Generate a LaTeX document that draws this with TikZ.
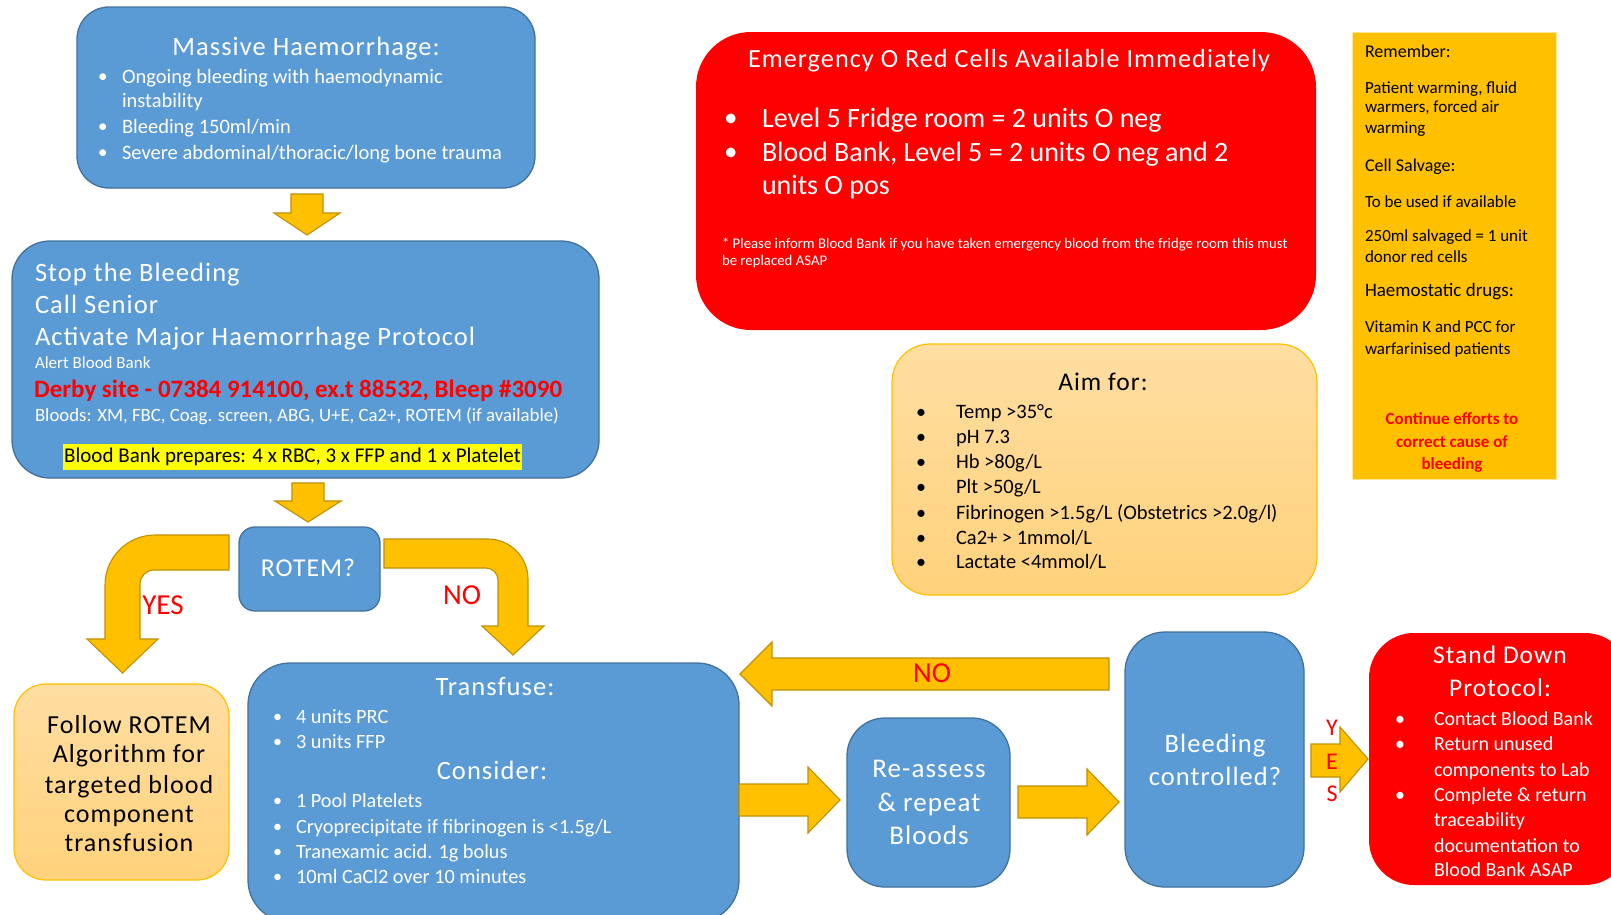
\documentclass[tikz,border=0pt]{standalone}
\usepackage{fontspec}
\setmainfont{Carlito}
\newfontfamily\spacedfont[LetterSpace=4]{Carlito}
\newcommand\sfz[1]{\spacedfont\fontsize{#1}{#1}\selectfont}
\newcommand\nfz[1]{\fontsize{#1}{#1}\selectfont}
\definecolor{boxblue}{HTML}{5B9BD5}
\definecolor{boxedge}{HTML}{41719C}
\definecolor{arrowfill}{HTML}{FFC000}
\definecolor{arrowedge}{HTML}{BF9000}
\definecolor{palehi}{HTML}{FFDEA2}
\definecolor{palelo}{HTML}{FFD27C}
\definecolor{paleedge}{HTML}{FFC000}
\definecolor{redbox}{HTML}{FF0000}
\definecolor{hlyellow}{HTML}{FFFF00}
\definecolor{remedge}{HTML}{FFE699}
\begin{document}
\begin{tikzpicture}[x=1pt,y=-1pt,
  bluebox/.style={draw=boxedge, line width=1.3pt, fill=boxblue, rounded corners=#1, inner sep=0pt},
  redpanel/.style={fill=redbox, rounded corners=#1, inner sep=0pt},
  palebox/.style={draw=paleedge, line width=1.2pt, top color=palehi, bottom color=palelo, rounded corners=#1, inner sep=0pt},
  rembox/.style={draw=remedge, line width=0.8pt, fill=arrowfill, inner sep=0pt},
  blockarrow/.style={draw=arrowedge, line width=1.1pt, fill=arrowfill, line join=miter},
  lw/.style={inner sep=0pt, outer sep=0pt, anchor=mid west},
  lc/.style={inner sep=0pt, outer sep=0pt, anchor=mid},
  nf/.style={font=\nfz{#1}, yshift=-0.24*#1pt},
  sf/.style={font=\sfz{#1}, yshift=-0.24*#1pt},
  bf/.style={font=\nfz{#1}\bfseries, yshift=-0.24*#1pt},
]
\clip (0,0) rectangle (1611,914);

% ---------- boxes ----------
\node[bluebox=32, minimum width=458, minimum height=181] (mass) at (306,97.5) {};
\node[bluebox=38, minimum width=587, minimum height=237] (stop) at (305.5,359.5) {};
\node[bluebox=16, minimum width=141, minimum height=84] (rotem) at (309.5,569) {};
\node[palebox=32, minimum width=215, minimum height=196] (follow) at (121.5,782) {};
\node[bluebox=42, minimum width=491, minimum height=259] (trans) at (493.5,792.5) {};
\node[bluebox=38, minimum width=163, minimum height=169] (reass) at (928.5,802.5) {};
\node[bluebox=40, minimum width=179, minimum height=255] (bleed) at (1214.5,759.5) {};
\node[redpanel=45, minimum width=261, minimum height=252] (stand) at (1499.5,759) {};
\node[redpanel=55, minimum width=620, minimum height=298] (emerg) at (1006,181) {};
\node[palebox=38, minimum width=425, minimum height=251] (aim) at (1104.5,469.5) {};
\node[rembox, minimum width=204, minimum height=447] (rem) at (1454,255.5) {};

% ---------- block arrows ----------
\draw[blockarrow] (291,194) -- (323,194) -- (323,213) -- (340,213) -- (307,235) -- (274,213) -- (291,213) -- cycle;
\draw[blockarrow] (292,483) -- (324,483) -- (324,501) -- (341,501) -- (308,522) -- (275,501) -- (292,501) -- cycle;
% YES curved
\draw[blockarrow] (229,535) -- (155,535) .. controls (127.4,535) and (105,557.4) .. (105,585) -- (105,639)
  -- (87,639) -- (122.5,673) -- (158,639) -- (140,639) -- (140,584)
  .. controls (140,576.3) and (146.3,570) .. (154,570) -- (229,570) -- cycle;
% NO curved
\draw[blockarrow] (384,539) -- (488,539) .. controls (510,539) and (528,557) .. (528,579) -- (528,626)
  -- (544,626) -- (513,655) -- (482,626) -- (498,626) -- (498,580)
  .. controls (498,573.4) and (492.6,568) .. (486,568) -- (384,568) -- cycle;
% Transfuse -> Reassess
\draw[blockarrow] (739,784) -- (808,784) -- (808,767) -- (840,800) -- (808,833) -- (808,816) -- (739,816) -- cycle;
% Reassess -> Bleeding
\draw[blockarrow] (1018,786) -- (1087,786) -- (1087,769) -- (1119,802) -- (1087,835) -- (1087,818) -- (1018,818) -- cycle;
% NO back
\draw[blockarrow] (1109,658) -- (772,658) -- (772,642) -- (740,674) -- (772,706) -- (772,690) -- (1109,690) -- cycle;
% YES right
\draw[blockarrow] (1311,744) -- (1340,744) -- (1340,727) -- (1368,759) -- (1340,792) -- (1340,777) -- (1311,777) -- cycle;

% ---------- Massive Haemorrhage ----------
\begin{scope}[text=white]
\node[lc, sf=26.5] (mass-t) at (306,47) {Massive Haemorrhage:};
\foreach \y [count=\i] in {76,126,152} {
  \node[lw, nf=19] (mass-b\i) at (98,\y) {\textbullet};
}
\node[lw, nf=20.5] (mass-1) at (122,76) {Ongoing bleeding with haemodynamic};
\node[lw, nf=20.5] (mass-2) at (122,100) {instability};
\node[lw, nf=20.5] (mass-3) at (122,126) {Bleeding 150ml/min};
\node[lw, nf=20.5] (mass-4) at (122,152) {Severe abdominal/thoracic/long bone trauma};

% ---------- Stop the bleeding ----------
\node[lw, sf=26.5] (stop-1) at (35,273) {Stop the Bleeding};
\node[lw, sf=26.5] (stop-2) at (35,305) {Call Senior};
\node[lw, sf=26.5] (stop-3) at (35,337) {Activate Major Haemorrhage Protocol};
\node[lw, nf=17] (stop-4) at (35,362) {Alert Blood Bank};
\node[lw, bf=25, text=redbox] (stop-5) at (34,389) {Derby site - 07384 914100, ex.t 88532, Bleep \#3090};
\node[lw, nf=18.8] (stop-6) at (35,415) {Bloods: XM, FBC, Coag. screen, ABG, U+E, Ca2+, ROTEM (if available)};
\end{scope}
\node[fill=hlyellow, inner sep=0pt, minimum width=459, minimum height=26, font=\nfz{21}, text=black] (stop-hl) at (292.5,456.5) {Blood Bank prepares: 4 x RBC, 3 x FFP and 1 x Platelet};

% ---------- ROTEM ----------
\node[lc, sf=25.7, text=white] (rotem-t) at (308,568) {ROTEM?};
\node[lc, nf=29, text=redbox] (yes-l) at (163,605) {YES};
\node[lc, nf=29, text=redbox] (no-l) at (462,595) {NO};

% ---------- Follow ROTEM ----------
\foreach \y/\t [count=\i] in {725/{Follow ROTEM},754/{Algorithm for},785/{targeted blood},814/{component},843/{transfusion}} {
  \node[lc, sf=26, text=black] (follow-\i) at (129,\y) {\t};
}

% ---------- Transfuse ----------
\begin{scope}[text=white]
\node[lc, sf=26.5] (trans-t) at (495,687) {Transfuse:};
\node[lc, sf=26.5] (trans-c) at (492,771) {Consider:};
\foreach \y/\t [count=\i] in {716/{4 units PRC},741/{3 units FFP},800/{1 Pool Platelets},826/{Cryoprecipitate if fibrinogen is <1.5g/L},851/{Tranexamic acid. 1g bolus},876/{10ml CaCl2 over 10 minutes}} {
  \node[lw, nf=18] (trans-b\i) at (273,\y) {\textbullet};
  \node[lw, nf=20.3] (trans-\i) at (296,\y) {\t};
}

% ---------- Re-assess / Bleeding ----------
\node[lc, sf=27] (reass-1) at (929,769) {Re-assess};
\node[lc, sf=27] (reass-2) at (929,803) {\& repeat};
\node[lc, sf=27] (reass-3) at (929,836) {Bloods};
\node[lc, sf=26.5] (bleed-1) at (1215,744) {Bleeding};
\node[lc, sf=26.5] (bleed-2) at (1215,777) {controlled?};
\end{scope}
\node[lc, nf=29, text=redbox] (no2-l) at (932,673) {NO};
\node[lc, nf=24, text=redbox] (y-l) at (1332,727) {Y};
\node[lc, nf=24, text=redbox] (e-l) at (1332,761) {E};
\node[lc, nf=24, text=redbox] (s-l) at (1332,793) {S};

% ---------- Stand Down ----------
\begin{scope}[text=white]
\node[lc, sf=25.5] (stand-t1) at (1500,655) {Stand Down};
\node[lc, sf=25.5] (stand-t2) at (1500,688) {Protocol:};
\foreach \y [count=\i] in {718,743,794} {
  \node[lw, nf=20] (stand-b\i) at (1395,\y) {\textbullet};
}
\foreach \y/\t [count=\i] in {718/{Contact Blood Bank},743/{Return unused},769/{components to Lab},794/{Complete \& return},819/{traceability},845/{documentation to},869/{Blood Bank ASAP}} {
  \node[lw, nf=20] (stand-\i) at (1434,\y) {\t};
}

% ---------- Emergency ----------
\node[lc, sf=26.2] (emerg-t) at (1009,59) {Emergency O Red Cells Available Immediately};
\node[lw, nf=27] (emerg-b1) at (724,118) {\textbullet};
\node[lw, nf=27] (emerg-b2) at (724,152) {\textbullet};
\node[lw, nf=28] (emerg-1) at (762,118) {Level 5 Fridge room = 2 units O neg};
\node[lw, nf=28] (emerg-2) at (762,152) {Blood Bank, Level 5 = 2 units O neg and 2};
\node[lw, nf=28] (emerg-3) at (762,185) {units O pos};
\node[lw, nf=14.8] (emerg-4) at (722,243) {* Please inform Blood Bank if you have taken emergency blood from the fridge room this must};
\node[lw, nf=14.8] (emerg-5) at (722,260) {be replaced ASAP};
\end{scope}

% ---------- Aim for ----------
\node[lc, sf=25.5] (aim-t) at (1103,382) {Aim for:};
\foreach \y/\t [count=\i] in {411/{Temp >35°c},436/{pH 7.3},461/{Hb >80g/L},486/{Plt >50g/L},512/{Fibrinogen >1.5g/L (Obstetrics >2.0g/l)},537/{Ca2+ > 1mmol/L},561/{Lactate <4mmol/L}} {
  \node[lw, nf=20] (aim-b\i) at (916,\y) {\textbullet};
  \node[lw, nf=20.5] (aim-\i) at (956,\y) {\t};
}

% ---------- Remember ----------
\node[lw, nf=18] (rem-1) at (1365,51) {Remember:};
\node[lw, nf=17] (rem-2) at (1365,87) {Patient warming, fluid};
\node[lw, nf=17] (rem-3) at (1365,106) {warmers, forced air};
\node[lw, nf=17] (rem-4) at (1365,127) {warming};
\node[lw, nf=18] (rem-5) at (1365,165) {Cell Salvage:};
\node[lw, nf=17] (rem-6) at (1365,201) {To be used if available};
\node[lw, nf=17] (rem-7) at (1365,235) {250ml salvaged = 1 unit};
\node[lw, nf=17] (rem-8) at (1365,256) {donor red cells};
\node[lw, nf=19] (rem-9) at (1365,290) {Haemostatic drugs:};
\node[lw, nf=17] (rem-10) at (1365,326) {Vitamin K and PCC for};
\node[lw, nf=17] (rem-11) at (1365,348) {warfarinised patients};
\node[lc, bf=17, text=redbox] (rem-12) at (1452,418) {Continue efforts to};
\node[lc, bf=17, text=redbox] (rem-13) at (1452,441) {correct cause of};
\node[lc, bf=17, text=redbox] (rem-14) at (1452,463) {bleeding};
\end{tikzpicture}
\end{document}
